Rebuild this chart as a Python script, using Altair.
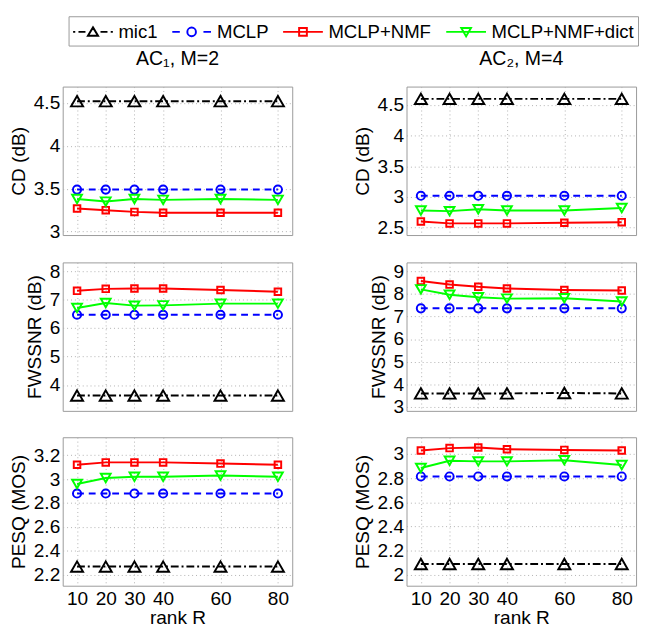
import altair as alt
import pandas as pd

# ---------------- data ----------------
R = [10, 20, 30, 40, 60, 80]
SERIES = ["mic1", "MCLP", "MCLP+NMF", "MCLP+NMF+dict"]
COLORS = ["#000000", "#0000ff", "#ff0000", "#00ff00"]

# AC1, M=2
AC1_CD = {
    "mic1": [4.52, 4.52, 4.52, 4.52, 4.52, 4.52],
    "MCLP": [3.49, 3.49, 3.49, 3.49, 3.49, 3.49],
    "MCLP+NMF": [3.27, 3.25, 3.23, 3.22, 3.22, 3.22],
    "MCLP+NMF+dict": [3.38, 3.35, 3.38, 3.37, 3.38, 3.37],
}
AC1_FWSSNR = {
    "mic1": [3.63, 3.63, 3.63, 3.63, 3.63, 3.63],
    "MCLP": [6.47, 6.47, 6.47, 6.47, 6.47, 6.47],
    "MCLP+NMF": [7.31, 7.38, 7.39, 7.39, 7.34, 7.28],
    "MCLP+NMF+dict": [6.71, 6.88, 6.79, 6.80, 6.86, 6.86],
}
AC1_PESQ = {
    "mic1": [2.27, 2.27, 2.27, 2.27, 2.27, 2.27],
    "MCLP": [2.88, 2.88, 2.88, 2.88, 2.88, 2.88],
    "MCLP+NMF": [3.12, 3.14, 3.14, 3.14, 3.13, 3.12],
    "MCLP+NMF+dict": [2.96, 3.01, 3.02, 3.02, 3.03, 3.02],
}
# AC2, M=4
AC2_CD = {
    "mic1": [4.60, 4.60, 4.60, 4.60, 4.60, 4.60],
    "MCLP": [3.02, 3.02, 3.02, 3.02, 3.02, 3.02],
    "MCLP+NMF": [2.60, 2.57, 2.57, 2.57, 2.58, 2.59],
    "MCLP+NMF+dict": [2.78, 2.77, 2.80, 2.78, 2.78, 2.82],
}
AC2_FWSSNR = {
    "mic1": [3.60, 3.60, 3.60, 3.60, 3.62, 3.60],
    "MCLP": [7.36, 7.36, 7.36, 7.36, 7.36, 7.36],
    "MCLP+NMF": [8.57, 8.41, 8.31, 8.24, 8.17, 8.15],
    "MCLP+NMF+dict": [8.20, 7.96, 7.85, 7.79, 7.81, 7.66],
}
AC2_PESQ = {
    "mic1": [2.09, 2.09, 2.09, 2.09, 2.09, 2.09],
    "MCLP": [2.815, 2.815, 2.815, 2.815, 2.815, 2.815],
    "MCLP+NMF": [3.03, 3.05, 3.055, 3.04, 3.035, 3.03],
    "MCLP+NMF+dict": [2.885, 2.945, 2.94, 2.94, 2.95, 2.91],
}

# ---------------- styles ----------------
FONT = "Liberation Sans"
DASHES = [[8, 3, 2, 3], [7, 5], None, None]
SHAPES = ["triangle-up", "circle", "square", "triangle-down"]
SIZES = [150, 70, 45, 100]
# legend glyphs: line segment + marker (custom SVG paths)
LEGEND_PATHS = [
    "M-1.85,0H-1.65M-1.35,0H-0.7M0.7,0H1.35M1.65,0H1.85"
    "M0,-0.42L0.47,0.36L-0.47,0.36Z",
    "M-1.8,0H-1.1M1.1,0H1.8"
    "M0.4,0A0.4,0.4 0 1,1 -0.4,0A0.4,0.4 0 1,1 0.4,0Z",
    "M-1.85,0H1.85M-0.36,-0.36H0.36V0.36H-0.36Z",
    "M-1.85,0H1.85M-0.45,-0.36L0.45,-0.36L0,0.42Z",
]

W, H = 235, 152


def panel(values, ydom, yticks, ytitle, bottom, title=None, legend=False):
    rows = []
    for s in SERIES:
        for r, v in zip(R, values[s]):
            rows.append({"R": r, "v": v, "series": s})
    df = pd.DataFrame(rows)
    xaxis = alt.Axis(values=R, labels=bottom, title="rank R" if bottom else None,
                     labelPadding=4, titlePadding=1)
    x = alt.X("R:Q", scale=alt.Scale(domain=[5, 85], nice=False), axis=xaxis)
    y = alt.Y("v:Q", scale=alt.Scale(domain=ydom, nice=False, zero=False),
              axis=alt.Axis(values=yticks, title=ytitle, format="~g",
                            labelPadding=3, titlePadding=5))
    layers = []
    for s, c, d, shp, sz in zip(SERIES, COLORS, DASHES, SHAPES, SIZES):
        base = alt.Chart(df).transform_filter(alt.datum.series == s)
        lkw = dict(color=c, strokeWidth=2)
        if d:
            lkw["strokeDash"] = d
        layers.append(base.mark_line(**lkw).encode(x=x, y=y))
        layers.append(base.mark_point(shape=shp, color=c, filled=False, size=sz,
                                      strokeWidth=2, opacity=1).encode(x=x, y=y))
    if legend:
        leg = alt.Legend(
            orient="none", legendX=6, legendY=-72, direction="horizontal",
            columns=4, title=None, labelFont=FONT, labelFontSize=19,
            labelColor="black", symbolSize=484, symbolStrokeWidth=2,
            symbolOpacity=1, symbolFillColor="transparent",
            symbolOffset=9, labelOffset=14, columnPadding=10, padding=4,
            strokeColor="#9a9a9a", fillColor="white", labelLimit=300,
        )
        ldf = pd.DataFrame({"series": SERIES})
        layers.append(
            alt.Chart(ldf).mark_point(opacity=0, filled=False, size=484).encode(
                x=alt.value(W / 2), y=alt.value(H / 2),
                color=alt.Color("series:N", scale=alt.Scale(domain=SERIES, range=COLORS),
                                sort=SERIES, legend=leg),
                shape=alt.Shape("series:N", scale=alt.Scale(domain=SERIES, range=LEGEND_PATHS),
                                sort=SERIES, legend=leg),
            )
        )
    ch = alt.layer(*layers).properties(width=W, height=H)
    if title:
        ch = ch.properties(title=alt.TitleParams(title, fontSize=20, font=FONT,
                                                 fontWeight="normal", color="black",
                                                 anchor="middle", offset=18))
    return ch


p11 = panel(AC1_CD, [2.96, 4.69], [3, 3.5, 4, 4.5], "CD (dB)", False, "AC\u2081, M=2", legend=True)
p12 = panel(AC2_CD, [2.38, 4.8], [2.5, 3, 3.5, 4, 4.5], "CD (dB)", False, "AC\u2082, M=4")
p21 = panel(AC1_FWSSNR, [3.09, 8.31], [4, 5, 6, 7, 8], "FWSSNR (dB)", False)
p22 = panel(AC2_FWSSNR, [2.83, 9.39], [3, 4, 5, 6, 7, 8, 9], "FWSSNR (dB)", False)
p31 = panel(AC1_PESQ, [2.11, 3.35], [2.2, 2.4, 2.6, 2.8, 3, 3.2], "PESQ (MOS)", True)
p32 = panel(AC2_PESQ, [1.91, 3.14], [2, 2.2, 2.4, 2.6, 2.8, 3], "PESQ (MOS)", True)

chart = alt.concat(p11, p12, p21, p22, p31, p32, columns=2,
                   spacing={"row": 19, "column": 60}).properties(
    padding=0
).configure_view(
    stroke="#9a9a9a", strokeWidth=1
).configure_axis(
    domain=False, ticks=False, grid=True, gridDash=[1, 3], gridColor="#b0b0b0",
    gridWidth=1, labelFont=FONT, labelFontSize=19.5, labelColor="black",
    titleFont=FONT, titleFontSize=19.5, titleColor="black", titleFontWeight="normal",
)

chart.save("out.html", embed_options={"renderer": "svg", "actions": False})
